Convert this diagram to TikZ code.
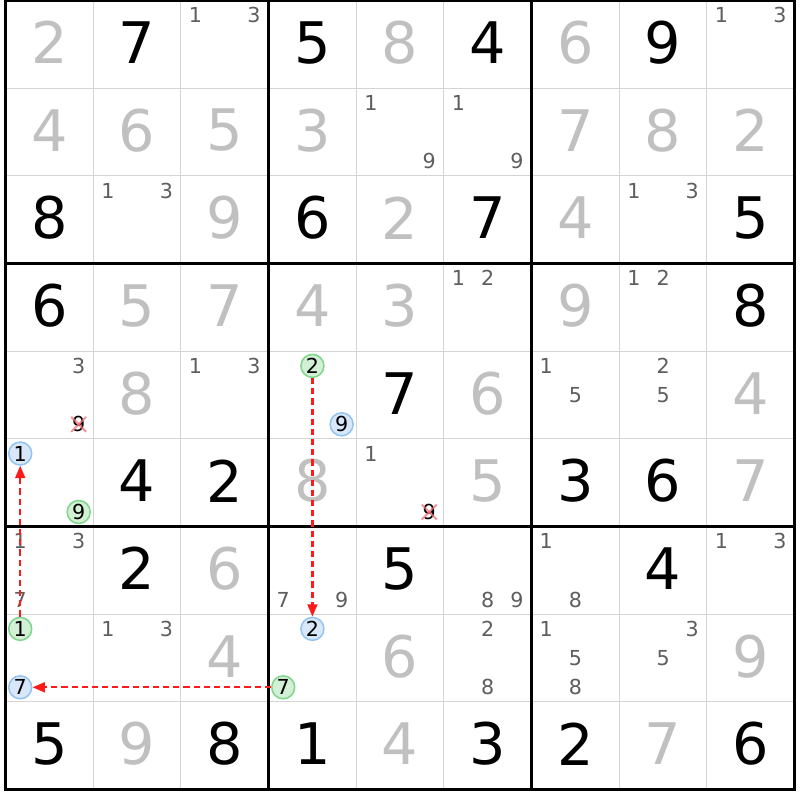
\documentclass[tikz,border=0pt]{standalone}
\usepackage{fontspec}
\setmainfont{DejaVu Sans}
\usetikzlibrary{arrows.meta}

\definecolor{gridgray}{HTML}{D4D4D4}
\definecolor{fillgray}{HTML}{C0C0C0}
\definecolor{candgray}{HTML}{5E5E5E}
\definecolor{ongreen}{HTML}{D3F0D6}
\definecolor{onedge}{HTML}{7FD68C}
\definecolor{offblue}{HTML}{D8E8FA}
\definecolor{offedge}{HTML}{93C4F2}
\definecolor{strikered}{HTML}{F26E78}
\definecolor{linkred}{HTML}{FF1A1A}

\tikzset{
    given/.style={inner sep=0pt, yshift=0.6pt, text=black, font=\fontsize{18.6}{20}\selectfont},
    filled/.style={given, text=fillgray},
    cand/.style={inner sep=0pt, text=candgray, font=\fontsize{6.7}{8}\selectfont},
    oncand/.style={cand, text=black, circle, draw=onedge, fill=ongreen, line width=0.5pt, minimum size=0.262cm},
    offcand/.style={oncand, draw=offedge, fill=offblue},
    strike/.style={strikered, line width=0.65pt, opacity=0.75},
    link/.style={draw=linkred, line width=0.7pt, dash pattern=on 2pt off 1.3pt, -{Triangle[length=4pt,width=3.2pt,fill=linkred]}}
}

\begin{document}
\begin{tikzpicture}[x=1cm, y=1cm]
            \useasboundingbox[fill=white] (-0.064,-0.115) rectangle (9.062,9.007);

            %grid
            \foreach \i in {1,2,4,5,7,8} {
                \draw[gridgray, line width=0.35pt] (\i,0)--(\i,9);
                \draw[gridgray, line width=0.35pt] (0,\i)--(9,\i);
            }

            \foreach \i in {0,3,6,9} {
                \draw[black, line width=0.9pt] (\i,-0.015)--(\i,9.015);
                \draw[black, line width=0.9pt] (-0.015,\i)--(9.015,\i);
            }

            %givens
            \foreach \r/\c/\d in {0/1/7, 0/3/5, 0/5/4, 0/7/9, 2/0/8, 2/3/6, 2/5/7, 2/8/5,
                                  3/0/6, 3/8/8, 4/4/7, 5/1/4, 5/2/2, 5/6/3, 5/7/6,
                                  6/1/2, 6/4/5, 6/7/4, 8/0/5, 8/2/8, 8/3/1, 8/5/3, 8/6/2, 8/8/6}
                \node[given] (g-\r-\c) at (\c+0.5,8.5-\r) {\d};

            %solved
            \foreach \r/\c/\d in {0/0/2, 0/4/8, 0/6/6, 1/0/4, 1/1/6, 1/2/5, 1/3/3, 1/6/7, 1/7/8, 1/8/2,
                                  2/2/9, 2/4/2, 2/6/4, 3/1/5, 3/2/7, 3/3/4, 3/4/3, 3/6/9,
                                  4/1/8, 4/5/6, 4/8/4, 5/3/8, 5/5/5, 5/8/7, 6/2/6,
                                  7/2/4, 7/4/6, 7/8/9, 8/1/9, 8/4/4, 8/7/7}
                \node[filled] (s-\r-\c) at (\c+0.5,8.5-\r) {\d};

            %pencil marks
            \foreach \r/\c/\d in {0/2/1, 0/2/3, 0/8/1, 0/8/3, 1/4/1, 1/4/9, 1/5/1, 1/5/9,
                                  2/1/1, 2/1/3, 2/7/1, 2/7/3, 3/5/1, 3/5/2, 3/7/1, 3/7/2,
                                  4/0/3, 4/2/1, 4/2/3, 4/6/1, 4/6/5, 4/7/2, 4/7/5, 5/4/1,
                                  6/0/1, 6/0/3, 6/0/7, 6/3/7, 6/3/9, 6/5/8, 6/5/9, 6/6/1, 6/6/8, 6/8/1, 6/8/3,
                                  7/1/1, 7/1/3, 7/5/2, 7/5/8, 7/6/1, 7/6/5, 7/6/8, 7/7/3, 7/7/5} {
                \pgfmathsetmacro\cx{\c+(mod(\d-1,3)+0.5)/3}
                \pgfmathsetmacro\cy{9-\r-(floor((\d-1)/3)+0.5)/3}
                \node[cand] (k-\r-\c-\d) at (\cx,\cy) {\d};
            }

            %eliminated
            \foreach \r/\c in {4/0, 5/4} {
                \node[cand, text=black] (x-\r-\c) at (\c+5/6,9-\r-5/6) {9};
                \draw[strike] ([shift={(-0.085,-0.085)}]x-\r-\c.center)--([shift={(0.085,0.085)}]x-\r-\c.center);
                \draw[strike] ([shift={(-0.085,0.085)}]x-\r-\c.center)--([shift={(0.085,-0.085)}]x-\r-\c.center);
            }

            %chain
            \node[oncand] (on2) at (3.5,9-4-1/6) {2};

            \node[offcand] (off9) at (3+5/6,9-4-5/6) {9};

            \node[offcand] (off1) at (1/6,9-5-1/6) {1};

            \node[oncand] (on9) at (5/6,9-5-5/6) {9};

            \node[oncand] (on1) at (1/6,9-7-1/6) {1};

            \node[offcand] (off7) at (1/6,9-7-5/6) {7};

            \node[offcand] (off2) at (3.5,9-7-1/6) {2};

            \node[oncand] (on7) at (3+1/6,9-7-5/6) {7};

            \draw[link] (on1)--(off1);

            \draw[link] (on2)--(off2);

            \draw[link] (on7)--(off7);
\end{tikzpicture}
\end{document}
